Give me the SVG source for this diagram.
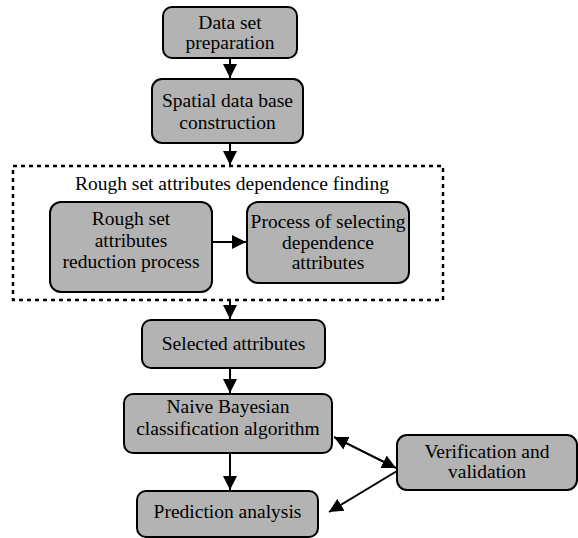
<svg xmlns="http://www.w3.org/2000/svg" width="578" height="538" viewBox="0 0 578 538">
<style>
.box{fill:#b3b3b3;stroke:#000;stroke-width:2}
text{font-family:'Liberation Serif','Times New Roman',Times,serif;font-size:19.5px;fill:#000;text-anchor:middle}
.c{stroke:#000;stroke-width:2;fill:none}
</style>
<defs>
<marker id="ah" viewBox="0 0 10 10" refX="10" refY="5" markerWidth="7" markerHeight="7" orient="auto-start-reverse" markerUnits="strokeWidth">
<path d="M0,0 L10,5 L0,10 Z" fill="#000"/>
</marker>
</defs>
<rect width="578" height="538" fill="#fff"/>
<g id="group-rough">
<rect x="13" y="166" width="430" height="134" fill="none" stroke="#000" stroke-width="2.5" stroke-dasharray="4,4"/>
<text x="232" y="190">Rough set attributes dependence finding</text>
</g>
<g id="n1"><rect class="box" x="163" y="7" width="134" height="51" rx="9"/>
<text x="230" y="29">Data set</text><text x="230" y="49">preparation</text></g>
<g id="n2"><rect class="box" x="152" y="79" width="151" height="64" rx="10"/>
<text x="227.5" y="107">Spatial data base</text><text x="227.5" y="129">construction</text></g>
<g id="nA"><rect class="box" x="50" y="202" width="162" height="90" rx="11"/>
<text x="131" y="225">Rough set</text><text x="131" y="247">attributes</text><text x="131" y="268">reduction process</text></g>
<g id="nB"><rect class="box" x="247" y="202" width="162" height="81" rx="11"/>
<text x="328" y="228">Process of selecting</text><text x="328" y="249">dependence</text><text x="328" y="269">attributes</text></g>
<g id="n3"><rect class="box" x="142" y="320" width="183" height="48" rx="9"/>
<text x="233.5" y="350">Selected attributes</text></g>
<g id="n4"><rect class="box" x="124" y="394" width="208" height="59" rx="9"/>
<text x="228" y="413">Naive Bayesian</text><text x="228" y="435">classification algorithm</text></g>
<g id="n5"><rect class="box" x="137" y="491" width="181" height="46" rx="9"/>
<text x="227.5" y="518">Prediction analysis</text></g>
<g id="n6"><rect class="box" x="397" y="435" width="180" height="55" rx="10"/>
<text x="487" y="458">Verification and</text><text x="487" y="478">validation</text></g>
<g id="connectors">
<line class="c" x1="230" y1="58" x2="230" y2="78" marker-end="url(#ah)"/>
<line class="c" x1="230" y1="143" x2="230" y2="165" marker-end="url(#ah)"/>
<line class="c" x1="212" y1="242" x2="246" y2="242" marker-end="url(#ah)"/>
<line class="c" x1="230" y1="300" x2="230" y2="319" marker-end="url(#ah)"/>
<line class="c" x1="230" y1="368" x2="230" y2="393" marker-end="url(#ah)"/>
<line class="c" x1="230" y1="453" x2="230" y2="490" marker-end="url(#ah)"/>
<line class="c" x1="334" y1="437" x2="396" y2="468" marker-start="url(#ah)" marker-end="url(#ah)"/>
<line class="c" x1="397" y1="471" x2="329" y2="512" marker-end="url(#ah)"/>
</g>
</svg>
